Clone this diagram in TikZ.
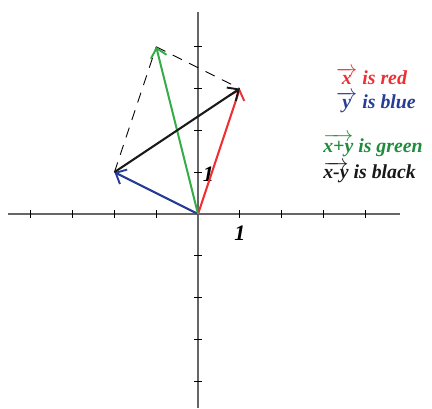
\documentclass[tikz,border=0pt]{standalone}
\usepackage{amsmath}
\usepackage{fontspec}
\setmainfont{Liberation Serif}
\usetikzlibrary{arrows.meta}

\definecolor{vred}{RGB}{236,48,52}
\definecolor{vblue}{RGB}{38,60,150}
\definecolor{vgreen}{RGB}{52,172,72}
\definecolor{vgreen2}{RGB}{30,140,60}

\begin{document}
\begin{tikzpicture}[
          axis/.style={draw=black!60, line width=0.9pt},
          tick/.style={draw=black, line width=0.6pt},
          vec/.style={-{Straight Barb[length=6pt,width=11pt,line width=1.3pt]}, line width=1.4pt},
          guide/.style={dashed, dash pattern=on 7pt off 5.5pt, line width=0.6pt},
          label/.style={anchor=west, inner sep=0pt, font=\fontsize{13.5}{15}\selectfont\bfseries\itshape}
        ]
          \useasboundingbox (-4.737,-4.641) rectangle (5.598,5.12);

          % axes
          \coordinate (xl) at (-4.55,0);
          \coordinate (xr) at (4.83,0);
          \coordinate (yb) at (0,-4.641);
          \coordinate (yt) at (0,4.83);
          \draw[axis] (xl) -- (xr);
          \draw[axis] (yb) -- (yt);

          % ticks
          \foreach \i in {-4,-3,-2,-1,1,2,3,4} {
            \draw[tick] (\i,-0.1) -- (\i,0.1);
            \draw[tick] (-0.1,\i) -- (0.1,\i);
          }
          \node[font=\fontsize{15}{17}\selectfont\bfseries\itshape] (one x) at (1,-0.45) {1};
          \node[font=\fontsize{15}{17}\selectfont\bfseries\itshape] (one y) at (0.25,0.96) {1};

          % points
          \coordinate (O) at (0,0);
          \coordinate (X) at (1,3);
          \coordinate (Y) at (-2,1);
          \coordinate (S) at (-1,4);

          % parallelogram guides
          \draw[guide] (Y) -- (S);
          \draw[guide] (S) -- (X);

          % vectors
          \draw[vec, vred] (O) -- (X);
          \draw[vec, vblue] (O) -- (Y);
          \draw[vec, vgreen] (O) -- (S);
          \draw[vec, black!90] (Y) -- (X);

          % legend
          \node[label, text=vred] (lx) at (3.30,3.30) {$\overrightarrow{\mbox{\bfseries\itshape x}}$ is red};
          \node[label, text=vblue] (ly) at (3.30,2.68) {$\overrightarrow{\mbox{\bfseries\itshape y}}$ is blue};
          \node[label, text=vgreen2] (ls) at (2.99,1.64) {$\overrightarrow{\mbox{\bfseries\itshape x+y}}$ is green};
          \node[label, text=black!90] (ld) at (2.99,1.0) {$\overrightarrow{\mbox{\bfseries\itshape x-y}}$ is black};
\end{tikzpicture}
\end{document}
